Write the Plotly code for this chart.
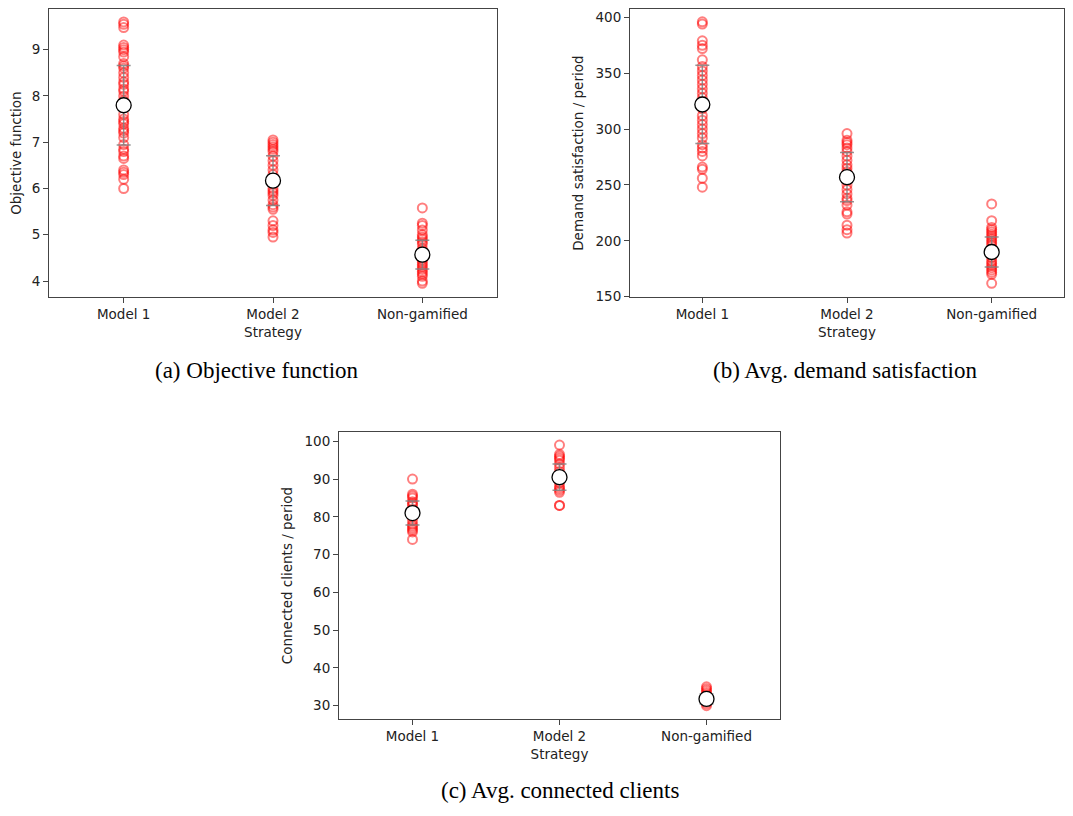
import plotly.graph_objects as go

categories = ["Model 1", "Model 2", "Non-gamified"]

# Panel (a) Objective function
obj_m1 = [9.6, 9.55, 9.48, 9.1, 9.05, 9.0, 8.95, 8.85, 8.7, 8.65, 8.6, 8.5, 8.4, 8.3, 8.25, 8.15,
          8.1, 8.0, 7.9, 7.85, 7.75, 7.6, 7.5, 7.45, 7.4, 7.3, 7.25, 7.2, 7.1, 6.95, 6.85, 6.8,
          6.7, 6.65, 6.4, 6.35, 6.3, 6.2, 6.0]
obj_m2 = [7.05, 7.0, 6.95, 6.9, 6.85, 6.8, 6.7, 6.6, 6.5, 6.4, 6.3, 6.2, 6.1, 6.0, 5.95, 5.9,
          5.85, 5.75, 5.65, 5.6, 5.55, 5.3, 5.2, 5.1, 5.05, 4.95]
obj_ng = [5.58, 5.25, 5.2, 5.1, 5.0, 4.95, 4.9, 4.85, 4.8, 4.7, 4.65, 4.55, 4.5, 4.45, 4.4,
          4.35, 4.3, 4.25, 4.2, 4.15, 4.1, 4.0, 3.95]
obj_mean = [7.8, 6.17, 4.57]
obj_std = [0.86, 0.54, 0.31]

# Panel (b) Demand satisfaction / period
dem_m1 = [396, 394, 379, 375, 372, 362, 356, 352, 348, 344, 340, 336, 332, 328, 324, 318, 312,
          308, 304, 300, 296, 292, 286, 283, 280, 276, 266, 264, 256, 248]
dem_m2 = [296, 290, 288, 286, 283, 280, 276, 272, 268, 265, 262, 258, 254, 250, 246, 242, 238,
          236, 232, 226, 224, 214, 210, 207]
dem_ng = [233, 218, 212, 210, 208, 206, 204, 202, 200, 198, 196, 192, 188, 185, 182, 180, 178,
          176, 174, 172, 170, 162]
dem_mean = [322, 257, 190]
dem_std = [35, 22, 13.5]

# Panel (c) Connected clients / period
cli_m1 = [90, 86, 85.5, 85, 84, 83.5, 83, 82, 81, 80.5, 80, 79, 78, 77.5, 77, 76.5, 76, 74]
cli_m2 = [99, 96.5, 96, 95.5, 95, 94, 93, 92, 91, 90, 89, 88, 87.5, 87, 86.5, 83, 83]
cli_ng = [35, 34.5, 34, 33.5, 33, 32.5, 32, 31.5, 31, 30.5, 30]
cli_mean = [81, 90.5, 31.8]
cli_std = [3.2, 3.5, 1.3]

obj_ticks = [4, 5, 6, 7, 8, 9]
dem_ticks = [150, 200, 250, 300, 350, 400]
cli_ticks = [30, 40, 50, 60, 70, 80, 90, 100]

# page body has an 8px margin; size the figure so the page fits the window exactly
OFF = 8
W, H = 1073 - 2 * OFF, 816 - 2 * OFF
fig = go.Figure()

FONT = "DejaVu Sans"
panels = [
    dict(groups=[obj_m1, obj_m2, obj_ng], mean=obj_mean, std=obj_std, ticks=obj_ticks,
         yrange=[3.66, 9.87], px=(49, 497), py=(8.5, 299), ytitle="Objective function",
         caption="(a) Objective function", cap=(257, 374)),
    dict(groups=[dem_m1, dem_m2, dem_ng], mean=dem_mean, std=dem_std, ticks=dem_ticks,
         yrange=[150, 407], px=(630, 1064), py=(8.5, 299), ytitle="Demand satisfaction / period",
         caption="(b) Avg. demand satisfaction", cap=(845, 374)),
    dict(groups=[cli_m1, cli_m2, cli_ng], mean=cli_mean, std=cli_std, ticks=cli_ticks,
         yrange=[26.5, 102.4], px=(339, 780), py=(436, 726), ytitle="Connected clients / period",
         caption="(c) Avg. connected clients", cap=(560, 798)),
]

annotations = []
for i, p in enumerate(panels):
    sfx = "" if i == 0 else str(i + 1)
    xa, ya = "x" + sfx, "y" + sfx
    for ci, vals in enumerate(p["groups"]):
        fig.add_trace(go.Scatter(
            x=[categories[ci]] * len(vals), y=vals, mode="markers", xaxis=xa, yaxis=ya,
            marker=dict(symbol="circle-open", size=9, color="rgba(255,0,0,0.5)",
                        line=dict(width=2, color="rgba(255,0,0,0.5)")),
            showlegend=False, hoverinfo="y"))
    fig.add_trace(go.Scatter(
        x=categories, y=p["mean"], mode="markers", xaxis=xa, yaxis=ya,
        error_y=dict(type="data", array=p["std"], color="rgba(128,128,128,0.85)",
                     thickness=1.5, width=7),
        marker=dict(symbol="circle", size=15, color="white",
                    line=dict(width=1.3, color="black")),
        showlegend=False))
    x0, x1 = [v - OFF for v in p["px"]]
    y0, y1 = [v - OFF for v in p["py"]]
    axis_common = dict(showline=True, linecolor="#444", linewidth=1, mirror=True,
                       ticks="outside", ticklen=5, tickcolor="#444", showgrid=False,
                       zeroline=False, tickfont=dict(family=FONT, size=13.5, color="#222"))
    fig.layout["xaxis" + sfx] = dict(
        domain=[x0 / W, x1 / W], anchor=ya, range=[-0.5, 2.5], type="category",
        categoryorder="array", categoryarray=categories,
        title=dict(text="Strategy", font=dict(family=FONT, size=13.5, color="#222"),
                   standoff=6),
        **axis_common)
    fig.layout["yaxis" + sfx] = dict(
        domain=[1 - y1 / H, 1 - y0 / H], anchor=xa, range=p["yrange"],
        tickvals=p["ticks"],
        title=dict(text=p["ytitle"], font=dict(family=FONT, size=13.5, color="#222"),
                   standoff=8),
        **axis_common)
    cx, cy = p["cap"]
    annotations.append(dict(
        text=p["caption"], xref="paper", yref="paper", x=(cx - OFF) / W,
        y=1 - (cy - OFF) / H, showarrow=False, xanchor="center", yanchor="middle",
        font=dict(family="Liberation Serif", size=23, color="black")))

fig.update_layout(width=W, height=H, margin=dict(l=0, r=0, t=0, b=0),
                  plot_bgcolor="white", paper_bgcolor="white", annotations=annotations)

fig.write_html("out.html", config={"displayModeBar": False})
